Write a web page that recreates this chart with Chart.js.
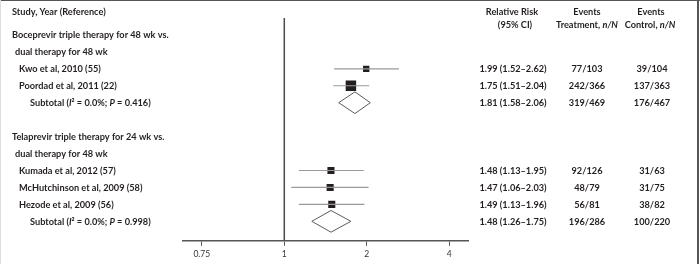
<!DOCTYPE html>
<html>
<head>
<meta charset="utf-8">
<script src="https://cdn.jsdelivr.net/npm/chart.js@4"></script>
<style>
  body { margin: 0; background: #fff; }
</style>
</head>
<body>
<canvas id="forest" width="700" height="264"></canvas>
<script>
// left column, one entry per row (row 1 = first line under the header)
// *...* marks italic text
const rowLabels = [
    'Boceprevir triple therapy for 48 wk vs.',
    'dual therapy for 48 wk',
    'Kwo et al, 2010 (55)',
    'Poordad et al, 2011 (22)',
    'Subtotal (*I*² = 0.0%; *P* = 0.416)',
    '',
    'Telaprevir triple therapy for 24 wk vs.',
    'dual therapy for 48 wk',
    'Kumada et al, 2012 (57)',
    'McHutchinson et al, 2009 (58)',
    'Hezode et al, 2009 (56)',
    'Subtotal (*I*² = 0.0%; *P* = 0.998)'
];
const rowKinds = ['group', 'sub', 'study', 'study', 'total', '', 'group', 'sub', 'study', 'study', 'study', 'total'];

// rows that carry an estimate
const resultRows  = [3, 4, 5, 9, 10, 11, 12];
const isSubtotal  = [false, false, true, false, false, false, true];
const relRisk     = [1.99, 1.75, 1.81, 1.48, 1.47, 1.49, 1.48];
const ciLow       = [1.52, 1.51, 1.58, 1.13, 1.06, 1.13, 1.26];
const ciHigh      = [2.62, 2.04, 2.06, 1.95, 2.03, 1.96, 1.75];
const eventsTreat = ['77/103', '242/366', '319/469', '92/126', '48/79', '56/81', '196/286'];
const eventsCtrl  = ['39/104', '137/363', '176/467', '31/63', '31/75', '38/82', '100/220'];

const tickValues = [0.5, 1, 2, 4];
const tickLabels = ['0.75', '1', '2', '4'];

const Y_MAX = 13.15;
const FONT_SIZE = 9.2;
const FAMILY = 'Lato, "Open Sans", sans-serif';
const indent = { group: 12, sub: 15, study: 19, total: 30 };

function font(italic) {
    return (italic ? 'italic ' : '') + 'bold ' + FONT_SIZE + 'px ' + FAMILY;
}

// draws text with *italic* parts, left aligned
function drawRuns(ctx, str, x, y) {
    const parts = str.split('*');
    parts.forEach(function (p, i) {
        ctx.font = font(i % 2 == 1);
        ctx.fillText(p, x, y);
        x += ctx.measureText(p).width;
    });
}

const datasets = [];

// line of no effect
datasets.push({
    data: [{x: 1, y: 0}, {x: 1, y: Y_MAX}],
    showLine: true,
    borderColor: '#4a4a4a',
    borderWidth: 1.5,
    pointRadius: 0
});

resultRows.forEach(function (r, i) {
    if (!isSubtotal[i]) {
        datasets.push({
            data: [{x: ciLow[i], y: r}, {x: ciHigh[i], y: r}],
            showLine: true,
            borderColor: '#9a9a9a',
            borderWidth: 1.2,
            pointRadius: 0
        });
    } else {
        // pooled estimate as a diamond
        datasets.push({
            data: [
                {x: ciLow[i], y: r},
                {x: relRisk[i], y: r - 0.64},
                {x: ciHigh[i], y: r},
                {x: relRisk[i], y: r + 0.64},
                {x: ciLow[i], y: r}
            ],
            showLine: true,
            borderColor: '#5a5a5a',
            borderWidth: 1,
            pointRadius: 0
        });
    }
});

const squares = [];
resultRows.forEach(function (r, i) {
    if (!isSubtotal[i]) squares.push({x: relRisk[i], y: r});
});
datasets.push({
    data: squares,
    pointStyle: 'rect',
    pointRadius: [4.5, 7.4, 5, 5, 5],
    backgroundColor: '#231f20',
    borderWidth: 0
});

const textPlugin = {
    id: 'forestText',
    afterDraw(chart) {
        const ctx = chart.ctx;
        const y = chart.scales.y;
        ctx.save();

        // frame
        ctx.strokeStyle = '#555';
        ctx.lineWidth = 1;
        ctx.beginPath();
        ctx.moveTo(0, 0.5); ctx.lineTo(700, 0.5);
        ctx.stroke();
        ctx.lineWidth = 2;
        ctx.beginPath();
        ctx.moveTo(698, 0); ctx.lineTo(698, 264);
        ctx.stroke();
        ctx.strokeStyle = '#ddd';
        ctx.lineWidth = 1;
        ctx.beginPath();
        ctx.moveTo(0.5, 0); ctx.lineTo(0.5, 264);
        ctx.stroke();

        ctx.fillStyle = '#231f20';
        ctx.textBaseline = 'middle';

        // headers
        ctx.textAlign = 'left';
        drawRuns(ctx, 'Study, Year (Reference)', 12, 12.5);
        ctx.textAlign = 'center';
        ctx.font = font(false);
        ctx.fillText('Relative Risk', 512, 12);
        ctx.fillText('(95% CI)', 515, 25);
        ctx.fillText('Events', 587, 12);
        ctx.fillText('Events', 651, 12);
        ctx.textAlign = 'left';
        let w = ctx.measureText('Treatment, ').width;
        ctx.font = font(true);
        w += ctx.measureText('n/N').width;
        drawRuns(ctx, 'Treatment, *n/N*', 587 - w / 2, 25);
        ctx.font = font(false);
        w = ctx.measureText('Control, ').width;
        ctx.font = font(true);
        w += ctx.measureText('n/N').width;
        drawRuns(ctx, 'Control, *n/N*', 650 - w / 2, 25);

        // study labels
        rowLabels.forEach(function (label, i) {
            if (!label) return;
            drawRuns(ctx, label, indent[rowKinds[i]], y.getPixelForValue(i + 1) + 0.5);
        });

        // numeric columns
        ctx.textAlign = 'center';
        ctx.font = font(false);
        resultRows.forEach(function (r, i) {
            const py = y.getPixelForValue(r) + 0.5;
            const rr = relRisk[i].toFixed(2) + ' (' + ciLow[i].toFixed(2) + '\u2013' + ciHigh[i].toFixed(2) + ')';
            ctx.fillText(rr, 513, py);
            ctx.fillText(eventsTreat[i], 587, py);
            ctx.fillText(eventsCtrl[i], 652, py);
        });
        ctx.restore();
    }
};

new Chart(document.getElementById('forest').getContext('2d'), {
    type: 'scatter',
    data: { datasets: datasets },
    options: {
        responsive: false,
        animation: false,
        layout: { padding: { left: 183, right: 232, top: 18, bottom: 2 } },
        plugins: { legend: { display: false }, tooltip: { enabled: false } },
        scales: {
            x: {
                type: 'logarithmic',
                min: 0.427,
                max: 4.68,
                afterBuildTicks: function (axis) {
                    axis.ticks = tickValues.map(function (v) { return {value: v}; });
                },
                ticks: {
                    autoSkip: false,
                    maxRotation: 0,
                    padding: 3,
                    color: '#333',
                    font: { family: FAMILY, size: 8.5 },
                    callback: function (v, i) { return tickLabels[i]; }
                },
                grid: { drawOnChartArea: false, drawTicks: true, tickLength: 5, color: '#555', lineWidth: 1 },
                border: { display: true, color: '#555', width: 1.5 }
            },
            y: {
                display: false,
                reverse: true,
                min: 0,
                max: Y_MAX
            }
        }
    },
    plugins: [textPlugin]
});
</script>
</body>
</html>
